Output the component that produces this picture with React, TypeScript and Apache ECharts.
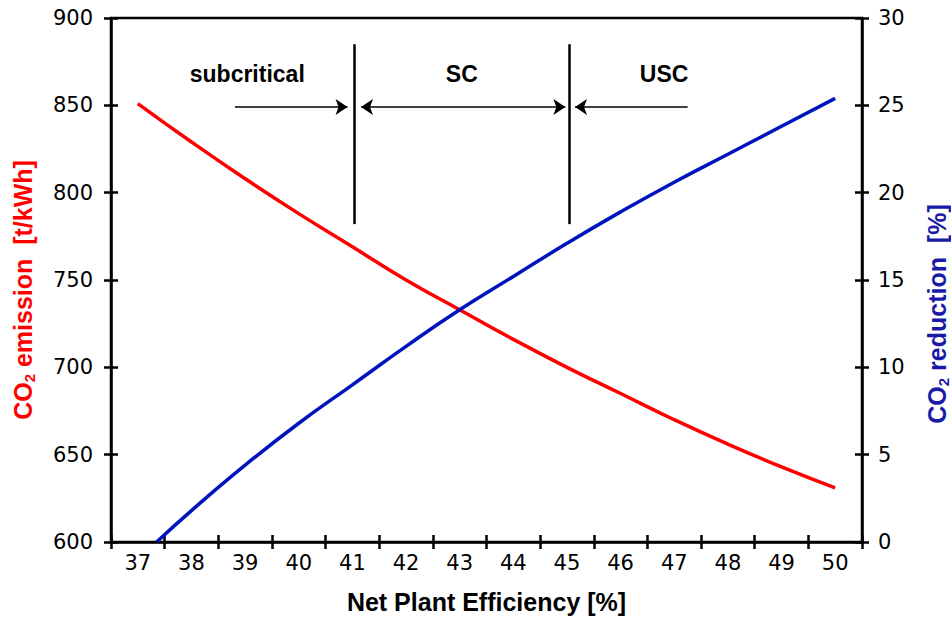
import React, { useEffect, useRef } from "react";
import * as echarts from "echarts";

// ---- data ----
const categories = ["37", "38", "39", "40", "41", "42", "43", "44", "45", "46", "47", "48", "49", "50"];

const emissionX = [37, 38, 39, 40, 41, 42, 43, 44, 45, 46, 47, 48, 49, 50];
const emissionY = [851, 829, 808, 788, 769, 750, 733, 716, 700, 685, 670, 656, 643, 631];

const reductionX = [37.35, 38, 39, 40, 41, 42, 43, 44, 45, 46, 47, 48, 49, 50];
const reductionY = [0, 1.8, 4.4, 6.8, 9.0, 11.2, 13.3, 15.2, 17.1, 18.9, 20.6, 22.2, 23.8, 25.4];

// region boundaries (x) and their vertical extent (left-axis values)
const boundaryX = [41.04, 45.05];
const boundaryY = [885, 782];

// region arrows: [fromX, toX, startSymbol, endSymbol] at arrowY
const arrowY = 849;
const arrowFrom = [38.81, 41.16, 47.25];
const arrowTo = [40.91, 44.97, 45.15];
const arrowStart = ["none", "arrow", "none"];
const arrowEnd = ["arrow", "arrow", "arrow"];

// region labels
const regionNames = ["subcritical", "SC", "USC"];
const regionX = [39.04, 43.04, 46.81];
const regionY = 868;

const RED = "#ff0000";
const BLUE = "#0014be";
const BLUE_TEXT = "#1a1aa8";
const TICK_FONT = "DejaVu Sans";
const BOLD_FONT = "Liberation Sans, Arial, sans-serif";

export default function App() {
  const ref = useRef<HTMLDivElement>(null);

  useEffect(() => {
    if (!ref.current) return;
    const chart = echarts.init(ref.current, undefined, { renderer: "svg" });

    const markLineData: any[] = [];
    boundaryX.forEach((bx) => {
      markLineData.push([
        { coord: [bx, boundaryY[0]], symbol: "none", lineStyle: { width: 2.5, color: "#000", type: "solid" } },
        { coord: [bx, boundaryY[1]], symbol: "none" },
      ]);
    });
    arrowFrom.forEach((fx, i) => {
      markLineData.push([
        { coord: [fx, arrowY], symbol: arrowStart[i], lineStyle: { width: 1.5, color: "#000", type: "solid" } },
        { coord: [arrowTo[i], arrowY], symbol: arrowEnd[i] },
      ]);
    });

    const tickStyle = { color: "#000", width: 2.5 };
    const labelStyle = { color: "#000", fontSize: 21, fontFamily: TICK_FONT };

    const option: any = {
      animation: false,
      backgroundColor: "#fff",
      grid: {
        left: 111,
        right: 89,
        top: 18,
        bottom: 77,
        show: true,
        borderColor: "#000",
        borderWidth: 2.5,
        backgroundColor: "transparent",
      },
      xAxis: [
        { type: "value", min: 36.5, max: 50.5, show: false },
        {
          type: "category",
          data: categories,
          position: "bottom",
          boundaryGap: true,
          axisLine: { show: true, lineStyle: { color: "#000", width: 2.5 } },
          axisTick: { show: true, inside: false, length: 7, lineStyle: tickStyle, alignWithLabel: false },
          axisLabel: { ...labelStyle, margin: 10 },
          splitLine: { show: false },
          name: "Net Plant Efficiency [%]",
          nameLocation: "middle",
          nameGap: 47,
          nameTextStyle: { fontSize: 25, fontWeight: "bold", fontFamily: BOLD_FONT, color: "#000" },
        },
        {
          type: "category",
          data: categories,
          position: "bottom",
          boundaryGap: true,
          axisLine: { show: false },
          axisTick: { show: true, inside: true, length: 7, lineStyle: tickStyle },
          axisLabel: { show: false },
          splitLine: { show: false },
        },
      ],
      yAxis: [
        {
          type: "value",
          position: "left",
          min: 600,
          max: 900,
          interval: 50,
          axisLine: { show: true, lineStyle: { color: "#000", width: 2.5 } },
          axisTick: { show: true, inside: false, length: 7, lineStyle: tickStyle },
          axisLabel: { ...labelStyle, margin: 18 },
          splitLine: { show: false },
        },
        {
          type: "value",
          position: "right",
          min: 0,
          max: 30,
          interval: 5,
          axisLine: { show: true, lineStyle: { color: "#000", width: 2.5 } },
          axisTick: { show: true, inside: false, length: 7, lineStyle: tickStyle },
          axisLabel: { ...labelStyle, margin: 16 },
          splitLine: { show: false },
        },
        {
          type: "value",
          position: "left",
          min: 600,
          max: 900,
          interval: 50,
          axisLine: { show: false },
          axisTick: { show: true, inside: true, length: 7, lineStyle: tickStyle },
          axisLabel: { show: false },
          splitLine: { show: false },
        },
        {
          type: "value",
          position: "right",
          min: 0,
          max: 30,
          interval: 5,
          axisLine: { show: false },
          axisTick: { show: true, inside: true, length: 7, lineStyle: tickStyle },
          axisLabel: { show: false },
          splitLine: { show: false },
        },
      ],
      series: [
        {
          type: "line",
          name: "CO2 emission",
          xAxisIndex: 0,
          yAxisIndex: 0,
          data: emissionX.map((x, i) => [x, emissionY[i]]),
          smooth: true,
          showSymbol: false,
          lineStyle: { color: RED, width: 3.5 },
          itemStyle: { color: RED },
          silent: true,
          z: 3,
          markLine: {
            silent: true,
            symbol: ["none", "none"],
            symbolSize: 12,
            label: { show: false },
            emphasis: { disabled: true },
            data: markLineData,
          },
          markPoint: {
            silent: true,
            symbol: "circle",
            symbolSize: 0,
            data: regionNames.map((n, i) => ({
              coord: [regionX[i], regionY],
              value: n,
              label: {
                show: true,
                formatter: n,
                position: "inside",
                color: "#000",
                fontSize: 23,
                fontWeight: "bold",
                fontFamily: BOLD_FONT,
              },
            })),
          },
        },
        {
          type: "line",
          name: "CO2 reduction",
          xAxisIndex: 0,
          yAxisIndex: 1,
          data: reductionX.map((x, i) => [x, reductionY[i]]),
          smooth: true,
          showSymbol: false,
          lineStyle: { color: BLUE, width: 3.5 },
          itemStyle: { color: BLUE },
          silent: true,
          z: 3,
        },
      ],
      graphic: [
        {
          type: "text",
          x: 23,
          y: 290,
          rotation: Math.PI / 2,
          silent: true,
          style: {
            text: "{a|CO}{s|2}{a| emission  [t/kWh]}",
            align: "center",
            verticalAlign: "middle",
            fill: RED,
            rich: {
              a: { fontSize: 25, fontWeight: "bold", fontFamily: BOLD_FONT, fill: RED, color: RED, lineHeight: 28 },
              s: { fontSize: 15, fontWeight: "bold", fontFamily: BOLD_FONT, fill: RED, color: RED, verticalAlign: "bottom" },
            },
          },
        },
        {
          type: "text",
          x: 937,
          y: 314,
          rotation: Math.PI / 2,
          silent: true,
          style: {
            text: "{a|CO}{s|2}{a| reduction  [%]}",
            align: "center",
            verticalAlign: "middle",
            fill: BLUE_TEXT,
            rich: {
              a: { fontSize: 25, fontWeight: "bold", fontFamily: BOLD_FONT, fill: BLUE_TEXT, color: BLUE_TEXT, lineHeight: 28 },
              s: { fontSize: 15, fontWeight: "bold", fontFamily: BOLD_FONT, fill: BLUE_TEXT, color: BLUE_TEXT, verticalAlign: "bottom" },
            },
          },
        },
      ],
    };

    chart.setOption(option);
    return () => chart.dispose();
  }, []);

  return (
    <div
      ref={ref}
      style={{ position: "fixed", left: 0, top: 0, width: 951, height: 619, background: "#fff" }}
    />
  );
}
